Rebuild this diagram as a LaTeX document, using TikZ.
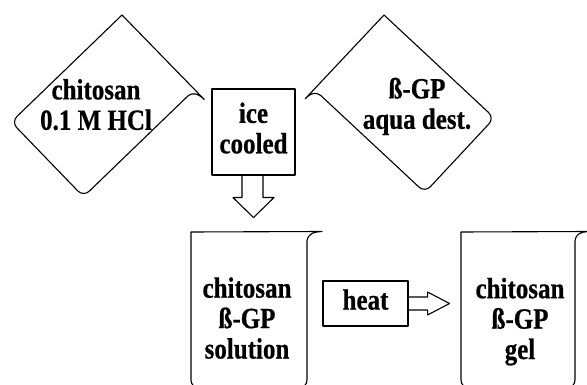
\documentclass[tikz,border=0pt]{standalone}
\usepackage{fontspec}
\usepackage{graphicx}
\setmainfont{Liberation Serif}[BoldFeatures={FakeBold=0.7}]
\newcommand{\tx}[1]{\scalebox{1}[1.17]{\begin{tabular}{@{}c@{}}#1\end{tabular}}}
\begin{document}
\begin{tikzpicture}[x=1pt,y=-1pt,line join=round,
  ln/.style={draw=black,line width=1.1pt},
  lbl/.style={font=\bfseries\fontsize{25}{26}\selectfont,align=center,inner sep=0pt},
  boxed/.style={ln,lbl,fill=white}]
\useasboundingbox (0,0) rectangle (587,385);
% beaker outline: #1 width, #2 height, #3 spout tip
\newcommand{\beakerpath}[3]{%
  \draw[ln] (0,0) -- (#3,-0.5) .. controls (#3-9,0) and (#1+1,2) .. (#1,9)
    [rounded corners=8pt] -- (#1,#2) -- (0,#2) [sharp corners] -- cycle;}
% tilted beakers
\begin{scope}[shift={(122,15)},rotate=-46]
  \beakerpath{104}{154}{118}
\end{scope}
\begin{scope}[shift={(384,15)},rotate=47,xscale=-1]
  \beakerpath{102}{151}{115}
\end{scope}
% upright beakers
\begin{scope}[shift={(191,232)}]
  \beakerpath{116}{156}{131}
\end{scope}
\begin{scope}[shift={(461,232)}]
  \beakerpath{114}{156}{128}
\end{scope}
% texts
\node[lbl] (chi) at (96,108.5) {\tx{chitosan\\0.1 M HCl}};
\node[lbl] (bgp) at (417,107.5) {\tx{ß-GP\\aqua dest.}};
\node[lbl] (sol) at (247,322) {\tx{chitosan\\ß-GP\\solution}};
\node[lbl] (gel) at (520,322.5) {\tx{chitosan\\ß-GP\\gel}};
% ice cooled box with down arrow
\node[boxed,minimum width=83pt,minimum height=86pt] (ice) at (253.5,132) {\tx{ice\\cooled}};
\draw[ln] ([xshift=-11.5pt]ice.south) -- ++(0,22) -- ++(-9,0) -- ([yshift=-42pt]ice.south)
  -- ([xshift=20.5pt,yshift=-22pt]ice.south) -- ++(-11,0) -- ++(0,-22);
% heat box with right arrow
\node[boxed,minimum width=85pt,minimum height=45pt] (heat) at (365.5,303.5) {\tx{heat}};
\draw[ln] ([yshift=6.5pt]heat.east) -- ++(19,0) -- ++(0,-5) -- ([xshift=41pt]heat.east)
  -- ([xshift=19pt,yshift=-11.5pt]heat.east) -- ++(0,-5) -- ++(-19,0);
\end{tikzpicture}
\end{document}
